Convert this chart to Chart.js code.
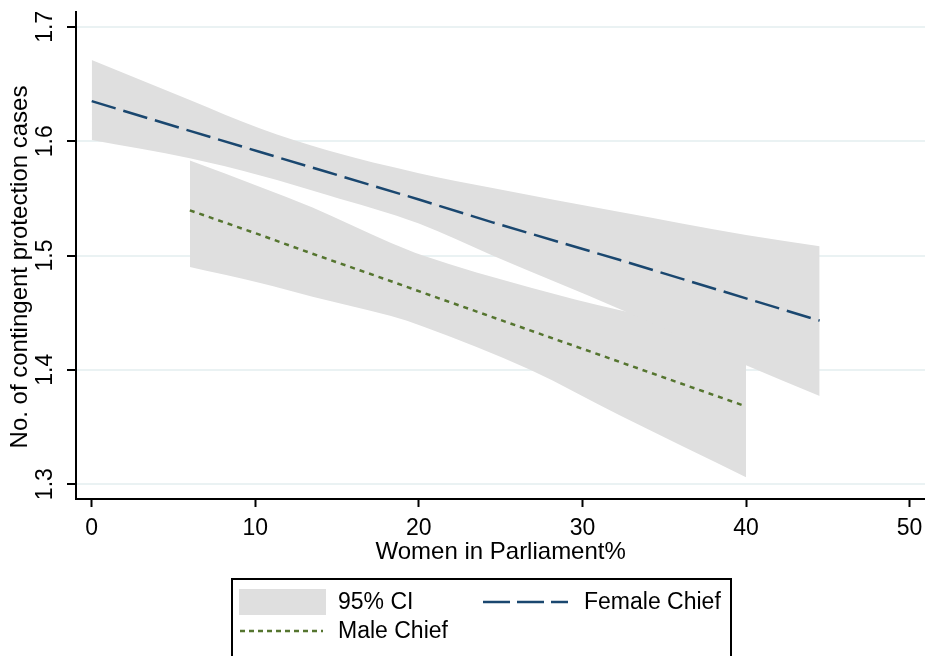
<!DOCTYPE html>
<html>
<head>
<meta charset="utf-8">
<script src="https://cdn.jsdelivr.net/npm/chart.js@4.4.0/dist/chart.umd.min.js"></script>
<style>
  html, body { margin: 0; padding: 0; background: #fff; }
</style>
</head>
<body>
<canvas id="canvas_margins" width="925" height="656"></canvas>
<script>
// predicted values
var female_x     = [0, 6, 10.3, 14.4, 20, 24.5, 32.3, 40, 44.5];
var female_fit   = [1.635, 1.609, 1.5905, 1.573, 1.549, 1.529, 1.496, 1.4625, 1.443];
var female_ci_hi = [1.671, 1.636, 1.611, 1.592, 1.572, 1.559, 1.538, 1.518, 1.508];
var female_ci_lo = [1.601, 1.585, 1.570, 1.553, 1.528, 1.500, 1.453, 1.404, 1.377];

var male_x     = [6, 10.3, 13.5, 18.3, 20.25, 26.8, 32.3, 40];
var male_fit   = [1.5395, 1.518, 1.5015, 1.4775, 1.4675, 1.4345, 1.4068, 1.368];
var male_ci_hi = [1.583, 1.560, 1.542, 1.511, 1.500, 1.472, 1.452, 1.430];
var male_ci_lo = [1.490, 1.476, 1.464, 1.447, 1.438, 1.400, 1.360, 1.306];

var x_ticks = [0, 10, 20, 30, 40, 50];
var y_ticks = [1.3, 1.4, 1.5, 1.6, 1.7];

var x_title = "Women in Parliament%";
var y_title = "No. of contingent protection cases";
var legend_labels = ["95% CI", "Female Chief", "Male Chief"];

var FONT = "Arial, 'Liberation Sans', sans-serif";
var NAVY = "#1a476f";
var GREEN = "#55752f";
var CI_GREY = "#dfdfdf";

function pts(xs, ys) {
  return xs.map(function (x, i) { return { x: x, y: ys[i] }; });
}

function bandSet(xs, ys, fillTo) {
  return {
    data: pts(xs, ys),
    borderWidth: 0,
    borderColor: CI_GREY,
    backgroundColor: CI_GREY,
    pointRadius: 0,
    cubicInterpolationMode: "monotone",
    fill: fillTo,
    order: 5
  };
}

// text, rotated y labels and the legend box
var stataText = {
  id: "stataText",
  afterDraw: function (chart) {
    var ctx = chart.ctx;
    var ys = chart.scales.y;
    var xs = chart.scales.x;
    ctx.save();
    ctx.fillStyle = "#000";
    ctx.textAlign = "center";
    ctx.textBaseline = "middle";
    ctx.font = "23px " + FONT;
    y_ticks.forEach(function (v) {
      ctx.save();
      ctx.translate(46, ys.getPixelForValue(v));
      ctx.rotate(-Math.PI / 2);
      ctx.fillText(v.toFixed(1), 0, 0);
      ctx.restore();
    });

    ctx.font = "24px " + FONT;
    ctx.save();
    ctx.translate(20, 267);
    ctx.rotate(-Math.PI / 2);
    ctx.fillText(y_title, 0, 0);
    ctx.restore();
    ctx.fillText(x_title, (xs.getPixelForValue(0) + xs.getPixelForValue(50)) / 2, 552);

    // legend
    ctx.lineWidth = 2;
    ctx.strokeStyle = "#000";
    ctx.strokeRect(232, 579, 499, 90);
    ctx.fillStyle = CI_GREY;
    ctx.fillRect(239, 589, 87, 26);

    ctx.lineWidth = 2.5;
    ctx.lineCap = "butt";
    ctx.strokeStyle = NAVY;
    ctx.setLineDash([27, 7]);
    ctx.beginPath(); ctx.moveTo(483, 602); ctx.lineTo(568, 602); ctx.stroke();
    ctx.strokeStyle = GREEN;
    ctx.setLineDash([5, 4]);
    ctx.beginPath(); ctx.moveTo(240, 631); ctx.lineTo(323, 631); ctx.stroke();
    ctx.setLineDash([]);

    ctx.fillStyle = "#000";
    ctx.textAlign = "left";
    ctx.font = "23px " + FONT;
    ctx.fillText(legend_labels[0], 338, 603);
    ctx.fillText(legend_labels[1], 584, 603);
    ctx.fillText(legend_labels[2], 338, 632);
    ctx.restore();
  }
};

function drawMargins() {
  var ctx = document.getElementById("canvas_margins");
  var chart = new Chart(ctx, {
    type: "line",
    data: {
      datasets: [
        bandSet(female_x, female_ci_hi, 1),
        bandSet(female_x, female_ci_lo, false),
        bandSet(male_x, male_ci_hi, 3),
        bandSet(male_x, male_ci_lo, false),
        {
          label: legend_labels[1],
          data: pts(female_x, female_fit),
          borderColor: NAVY,
          borderWidth: 2.5,
          borderDash: [25, 8],
          pointRadius: 0,
          fill: false,
          order: 0
        },
        {
          label: legend_labels[2],
          data: pts(male_x, male_fit),
          borderColor: GREEN,
          borderWidth: 2.5,
          borderDash: [5, 5],
          pointRadius: 0,
          fill: false,
          order: 0
        }
      ]
    },
    options: {
      responsive: false,
      animation: false,
      layout: { padding: { top: 12, right: 0, left: 0, bottom: 0 } },
      plugins: { legend: { display: false }, tooltip: { enabled: false } },
      scales: {
        x: {
          type: "linear",
          min: -0.96,
          max: 50.94,
          afterBuildTicks: function (s) { s.ticks = x_ticks.map(function (v) { return { value: v }; }); },
          afterFit: function (s) { s.height = 157; s.paddingLeft = 0; s.paddingRight = 0; },
          grid: { drawOnChartArea: false, drawTicks: true, tickLength: 8, tickColor: "#000", tickWidth: 2 },
          border: { color: "#000", width: 2 },
          ticks: { color: "#000", font: { family: FONT, size: 23 }, padding: 8, maxRotation: 0, autoSkip: false }
        },
        y: {
          min: 1.287,
          max: 1.713,
          afterBuildTicks: function (s) { s.ticks = y_ticks.map(function (v) { return { value: v }; }); },
          afterFit: function (s) { s.width = 76; },
          grid: { color: "#eaf2f3", lineWidth: 2, drawTicks: true, tickLength: 9, tickColor: "#000", tickWidth: 2 },
          border: { color: "#000", width: 2 },
          ticks: { display: false }
        }
      }
    },
    plugins: [stataText]
  });
}

drawMargins();
</script>
</body>
</html>
